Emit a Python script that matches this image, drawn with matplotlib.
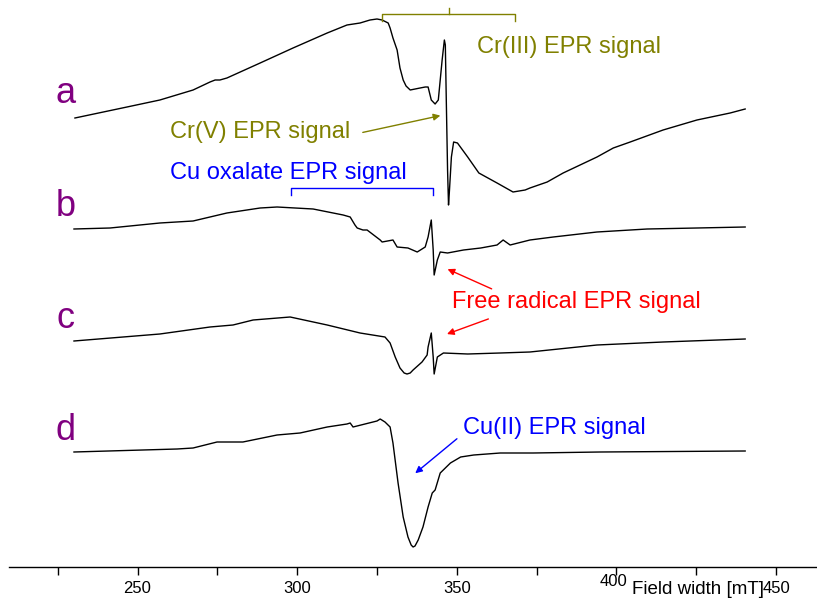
import matplotlib
matplotlib.use("Agg")
import matplotlib.pyplot as plt
from matplotlib.transforms import ScaledTranslation

plt.rcParams['font.family'] = ['Liberation Sans', 'DejaVu Sans']

# ---- data (field in mT, intensity in arbitrary units, traces already offset) ----
a_field = [230.4, 246.7, 257.0, 267.4, 272.7, 274.3, 275.8, 278.0, 288.4, 298.7, 309.4, 315.6,
           319.7, 322.8, 325.0, 326.6, 328.5, 329.1, 330.0, 331.3, 332.2, 333.2, 334.1, 335.4,
           338.5, 340.1, 341.0, 342.0, 343.2,
           344.2, 345.4, 346.1, 346.4, 346.7, 347.1, 347.4, 347.7, 348.3, 349.0, 350.2, 353.4,
           356.9, 362.6, 367.6, 371.4, 372.9, 378.3, 383.3, 388.6, 393.9, 399.0, 404.3, 414.6,
           425.2, 435.6, 440.3]
a_int = [449, 460, 467, 477, 485, 487, 487, 489, 504, 519, 534, 542,
         544, 547, 548, 547, 544, 539, 529, 517, 499, 487, 481, 477,
         479, 480, 480, 467, 463,
         467, 507, 527, 522, 467, 397, 362, 377, 410, 425, 424, 410,
         394, 384, 375, 377, 379, 385, 394, 402, 410, 419, 425, 437,
         447, 454, 458]

b_field = [230.1, 241.4, 257.0, 267.4, 278.0, 288.4, 293.7, 305.0, 314.4, 316.6, 318.1, 318.8,
           320.6, 321.9, 326.0, 326.6, 330.0, 331.3, 334.7, 337.6, 340.1, 341.0, 342.0, 342.6,
           342.9, 343.9, 344.8, 347.1, 352.1, 357.5, 362.6, 364.5, 366.7, 372.9, 380.2, 393.9,
           409.6, 425.2, 440.3]
b_int = [338, 339, 344, 346, 354, 359, 360, 358, 352, 350, 342, 339,
         337, 337, 327, 325, 327, 320, 319, 315, 320, 330, 347, 317,
         292, 307, 315, 314, 317, 319, 322, 327, 322, 327, 330, 335,
         338, 339, 340]

c_field = [230.1, 257.0, 272.7, 279.9, 286.2, 297.8, 309.4, 319.7, 327.5, 329.1, 330.7, 332.2,
           333.5, 334.4, 335.4, 336.3, 339.1, 340.7, 341.0, 342.0, 342.6, 342.9, 343.9, 345.8,
           353.4, 363.6, 372.9, 393.9, 414.6, 440.3]
c_int = [226, 233, 240, 242, 247, 250, 242, 234, 230, 224, 210, 199,
         194, 193, 194, 197, 205, 212, 220, 234, 210, 193, 210, 214,
         213, 214, 215, 222, 225, 228]

d_field = [230.1, 262.4, 267.4, 274.9, 278.0, 283.0, 293.7, 300.9, 309.4, 315.6, 316.6, 317.5,
           325.0, 326.0, 327.5, 329.1, 330.0, 331.6, 333.2, 334.7, 335.7, 336.3, 336.9, 337.9,
           339.4, 341.0, 342.3, 343.2, 344.8, 348.0, 351.2, 355.3, 363.6, 373.9, 394.9, 440.3]
d_int = [115, 118, 119, 125, 125, 125, 132, 134, 140, 143, 144, 140,
         146, 148, 145, 140, 124, 84, 50, 30, 22, 20, 21, 27,
         40, 60, 74, 77, 94, 104, 110, 112, 114, 114, 115, 116]

trace_labels = ['a', 'b', 'c', 'd']
label_pos_y = [464, 351, 239, 127]
major_ticks = [250, 300, 350, 400, 450]
minor_ticks = [225, 275, 325, 375, 425]

OLIVE = '#808000'
PURPLE = '#800080'
BLUE = '#0000FF'
RED = '#FF0000'

fig = plt.figure(figsize=(8.17, 6.01), dpi=100)
ax = fig.add_axes([9 / 817, 1 - 567 / 601, 808 / 817, 567 / 601])

for xs, ys in [(a_field, a_int), (b_field, b_int), (c_field, c_int), (d_field, d_int)]:
    ax.plot(xs, ys, color='black', lw=1.0)

for lab, yy in zip(trace_labels, label_pos_y):
    ax.text(227.4, yy, lab, color=PURPLE, fontsize=26, ha='center', va='baseline')

# Cr(III) bracket
ax.plot([326.6, 326.6, 368.3, 368.3], [546, 553, 553, 546], color=OLIVE, lw=1.0)
ax.plot([347.4, 347.4], [553, 559], color=OLIVE, lw=1.0)
ax.text(356.3, 520, 'Cr(III) EPR signal', color=OLIVE, fontsize=17, ha='left', va='center')

# Cr(V)
ax.text(260.2, 435, 'Cr(V) EPR signal', color=OLIVE, fontsize=17, ha='left', va='center')
ax.annotate('', xy=(345.7, 452), xytext=(319.7, 434),
            arrowprops=dict(arrowstyle='-|>', color=OLIVE, lw=1.0, mutation_scale=10))

# Cu oxalate
ax.text(260.2, 394, 'Cu oxalate EPR signal', color=BLUE, fontsize=17, ha='left', va='center')
ax.plot([298.1, 298.1, 342.6, 342.6], [372, 379, 379, 372], color=BLUE, lw=1.0)

# Free radical
ax.text(348.5, 265, 'Free radical EPR signal', color=RED, fontsize=17, ha='left', va='center')
ax.annotate('', xy=(346.3, 299), xytext=(361.7, 277),
            arrowprops=dict(arrowstyle='-|>', color=RED, lw=1.0, mutation_scale=10))
ax.annotate('', xy=(346.1, 232), xytext=(360.7, 249),
            arrowprops=dict(arrowstyle='-|>', color=RED, lw=1.0, mutation_scale=10))

# Cu(II)
ax.text(352.0, 139, 'Cu(II) EPR signal', color=BLUE, fontsize=17, ha='left', va='center')
ax.annotate('', xy=(336.3, 92), xytext=(350.7, 130),
            arrowprops=dict(arrowstyle='-|>', color=BLUE, lw=1.0, mutation_scale=10))

for s in ['left', 'right', 'top']:
    ax.spines[s].set_visible(False)
ax.spines['bottom'].set_linewidth(1.0)
ax.set_yticks([])
ax.set_xticks(major_ticks)
ax.set_xticklabels([str(t) for t in major_ticks])
ax.set_xticks(minor_ticks, minor=True)
ax.tick_params(axis='x', which='both', direction='out', length=6, width=1.0,
               labelsize=12, pad=4)
ax.set_xlim(209.75, 462.8)
ax.set_ylim(0, 567)

for lbl in ax.get_xticklabels():
    if lbl.get_text() == '400':
        lbl.set_transform(lbl.get_transform() + ScaledTranslation(-2 / 72, 5 / 72, fig.dpi_scale_trans))

ax.set_xlabel('Field width [mT]', fontsize=13.5)
ax.xaxis.label.set_va('baseline')
ax.xaxis.set_label_coords((698.5 - 9) / 808, (567 - 594) / 567)

fig.savefig('out.png', dpi=100)
